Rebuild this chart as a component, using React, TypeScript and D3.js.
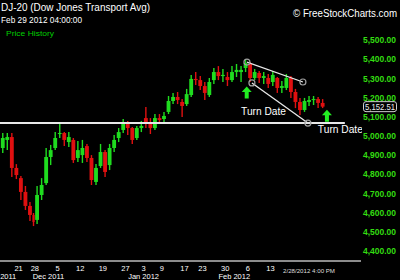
import React from 'react';
import * as d3 from 'd3';

// ---- data ----
const dates = [
  "2011-11-15","2011-11-16","2011-11-17","2011-11-18","2011-11-21","2011-11-22","2011-11-23","2011-11-25",
  "2011-11-28","2011-11-29","2011-11-30","2011-12-01","2011-12-02","2011-12-05","2011-12-06","2011-12-07",
  "2011-12-08","2011-12-09","2011-12-12","2011-12-13","2011-12-14","2011-12-15","2011-12-16","2011-12-19",
  "2011-12-20","2011-12-21","2011-12-22","2011-12-23","2011-12-27","2011-12-28","2011-12-29","2011-12-30",
  "2012-01-03","2012-01-04","2012-01-05","2012-01-06","2012-01-09","2012-01-10","2012-01-11","2012-01-12",
  "2012-01-13","2012-01-17","2012-01-18","2012-01-19","2012-01-20","2012-01-23","2012-01-24","2012-01-25",
  "2012-01-26","2012-01-27","2012-01-30","2012-01-31","2012-02-01","2012-02-02","2012-02-03","2012-02-06",
  "2012-02-07","2012-02-08","2012-02-09","2012-02-10","2012-02-13","2012-02-14","2012-02-15","2012-02-16",
  "2012-02-17","2012-02-21","2012-02-22","2012-02-23","2012-02-24","2012-02-27","2012-02-28","2012-02-29",
];
const opens = [
  4937,4979,4994,4833,4780,4708,4635,4588, 4562,4692,4754,4890,4937,5015,5015,4968,
  4979,4885,4900,4947,4885,4760,4843,4916, 4848,4937,4989,5031,5062,5041,4989,5041,
  5093,5072,5041,5093,5088,5125,5182,5203, 5177,5166,5213,5297,5291,5260,5213,5291,
  5333,5312,5307,5291,5333,5333,5354,5375, 5302,5328,5302,5302,5281,5302,5250,5250,
  5302,5229,5177,5135,5177,5187,5192,5172,
];
const highs = [
  5015,5015,5015,4853,4791,4739,4655,4598, 4739,4780,4937,4953,5020,5072,5020,5020,
  4989,4973,4979,4958,4900,4853,4958,4926, 4958,5005,5041,5088,5078,5046,5052,5078,
  5151,5093,5114,5114,5125,5208,5224,5229, 5192,5245,5318,5333,5312,5281,5302,5354,
  5364,5349,5333,5364,5375,5364,5401,5385, 5349,5338,5333,5323,5338,5307,5286,5323,
  5312,5245,5198,5198,5208,5208,5203,5192,
];
const lows = [
  4911,4926,4786,4775,4666,4614,4556,4530, 4541,4666,4744,4848,4926,4989,4947,4942,
  4859,4864,4859,4864,4744,4744,4833,4786, 4822,4916,4968,5015,5005,4958,4979,5020,
  5041,5010,5031,5062,5072,5114,5166,5166, 5099,5156,5203,5265,5239,5187,5203,5271,
  5291,5281,5260,5281,5307,5281,5333,5281, 5291,5276,5271,5250,5260,5224,5224,5239,
  5198,5145,5109,5125,5156,5161,5145,5145,
];
const closes = [
  4989,4994,4833,4796,4708,4635,4588,4551, 4692,4744,4890,4926,4989,5015,4979,4994,
  4874,4926,4937,4885,4770,4833,4916,4812, 4937,4979,5020,5062,5041,4979,5041,5052,
  5072,5041,5093,5083,5104,5182,5203,5187, 5156,5218,5297,5291,5260,5224,5281,5333,
  5312,5318,5291,5333,5344,5344,5380,5302, 5333,5302,5312,5271,5318,5250,5260,5302,
  5229,5177,5135,5182,5187,5192,5172,5152.51,
];
const halfDays = ["2011-11-25"];
const priceTicks = [5500, 5400, 5300, 5200, 5100, 5000, 4900, 4800, 4700, 4600, 4500, 4400];
const dayTicks = [
  "2011-11-21","2011-11-28","2011-12-05","2011-12-12","2011-12-19","2011-12-27",
  "2012-01-03","2012-01-09","2012-01-17","2012-01-23","2012-01-30","2012-02-06","2012-02-13",
];
const monthTickDates = ["2011-11-15", "2011-12-01", "2012-01-03", "2012-02-01"];
const monthTickLabels = ["Nov 2011", "Dec 2011", "Jan 2012", "Feb 2012"];
const supportLevel = 5067;
const supportEnd = { date: "2012-02-29", frac: 5.4 };
const trendTop = [
  { date: "2012-02-03", frac: 0.8, price: 5385 },
  { date: "2012-02-23", frac: 0.15, price: 5281 },
];
const trendBottom = [
  { date: "2012-02-06", frac: 0.9, price: 5276 },
  { date: "2012-02-24", frac: 0.25, price: 5067 },
];
const arrowMarks = [
  { date: "2012-02-03", frac: 0.75, price: 5258 },
  { date: "2012-02-29", frac: 1.45, price: 5136 },
];
const turnLabels = [
  { date: "2012-02-02", frac: 0.5, price: 5109, text: "Turn Date" },
  { date: "2012-02-28", frac: 0.45, price: 5015, text: "Turn Date" },
];
const titleText = "DJ-20 (Dow Jones Transport Avg)";
const stampText = "Feb 29 2012 04:00:00";
const legendText = "Price History";
const brandText = "\u00A9 FreeStockCharts.com";
const footerText = "2/28/2012 4:00 PM";

const FONT = "'Liberation Sans', Arial, sans-serif";
const GREEN = "#1fdc1f";
const RED = "#e01010";

export default function App() {
  const W = 400, H = 280;
  const bpd = dates.map(d => (halfDays.includes(d) ? 4 : 7));
  const starts: number[] = [];
  let acc = 0;
  bpd.forEach(b => { starts.push(acc); acc += b; });
  const total = acc;
  const x = d3.scaleLinear().domain([0, total]).range([0.5, 324.9]);
  const y = d3.scaleLinear().domain([4400, 5500]).range([251, 40]);
  const index = new Map(dates.map((d, i) => [d, i] as [string, number]));
  const pos = (date: string, frac = 0) => {
    const i = index.get(date)!;
    return x(starts[i] + frac * bpd[i]);
  };
  const fmt = d3.format(",.2f");
  const lastClose = closes[closes.length - 1];
  const axisY = 261;
  const arrowPath = (cx: number, ty: number) =>
    `M${cx},${ty} L${cx + 5},${ty + 5.5} L${cx + 2},${ty + 5.5} L${cx + 2},${ty + 12} L${cx - 2},${ty + 12} L${cx - 2},${ty + 5.5} L${cx - 5},${ty + 5.5} Z`;

  return (
    <svg width={W} height={H} style={{ position: 'absolute', left: 0, top: 0, display: 'block', background: '#000' }}>
      <defs>
        <clipPath id="plotClip"><rect x={0} y={0} width={362} height={258} /></clipPath>
      </defs>
      <rect x={0} y={0} width={W} height={H} fill="#000" />

      {/* header texts */}
      <text x={1} y={11} fill="#fff" fontFamily={FONT} fontSize={10} textLength={149} lengthAdjust="spacingAndGlyphs">{titleText}</text>
      <text x={1} y={23} fill="#fff" fontFamily={FONT} fontSize={8.5} textLength={81} lengthAdjust="spacingAndGlyphs">{stampText}</text>
      <text x={6} y={36} fill="#00cc00" fontFamily={FONT} fontSize={8} textLength={48} lengthAdjust="spacingAndGlyphs">{legendText}</text>
      <text x={293} y={17} fill="#fff" fontFamily={FONT} fontSize={10} textLength={104} lengthAdjust="spacingAndGlyphs">{brandText}</text>

      <g clipPath="url(#plotClip)">
        {/* candles */}
        {dates.map((d, i) => {
          const cx = pos(d, 0.5);
          const w = (x(starts[i] + bpd[i]) - x(starts[i])) * 0.85;
          const up = closes[i] >= opens[i];
          const col = up ? GREEN : RED;
          const y0 = Math.min(y(opens[i]), y(closes[i]));
          const h = Math.max(1, Math.abs(y(opens[i]) - y(closes[i])));
          return (
            <g key={d}>
              <line x1={cx} x2={cx} y1={y(highs[i])} y2={y(lows[i])} stroke={col} strokeWidth={1.4} />
              <rect x={cx - w / 2} y={y0} width={w} height={h} fill={col} />
            </g>
          );
        })}

        {/* support line */}
        <line x1={0} x2={pos(supportEnd.date, supportEnd.frac)} y1={y(supportLevel)} y2={y(supportLevel)} stroke="#e8e8e8" strokeWidth={2} />

        {/* trend lines */}
        {[trendTop, trendBottom].map((t, k) => (
          <g key={k}>
            <line x1={pos(t[0].date, t[0].frac)} y1={y(t[0].price)} x2={pos(t[1].date, t[1].frac)} y2={y(t[1].price)} stroke="#e8e8e8" strokeWidth={1.3} />
            {t.map((p, j) => (
              <circle key={j} cx={pos(p.date, p.frac)} cy={y(p.price)} r={3} fill="none" stroke="#a0a0a0" strokeWidth={1.2} />
            ))}
          </g>
        ))}

        {/* arrows */}
        {arrowMarks.map((a, k) => (
          <path key={k} d={arrowPath(pos(a.date, a.frac), y(a.price))} fill="#22ee22" />
        ))}

        {/* turn date labels */}
        {turnLabels.map((l, k) => (
          <text key={k} x={pos(l.date, l.frac)} y={y(l.price)} fill="#fff" fontFamily={FONT} fontSize={10.5} textLength={45} lengthAdjust="spacingAndGlyphs">{l.text}</text>
        ))}
      </g>

      {/* y axis labels */}
      {priceTicks.map(p => (
        <text key={p} x={396} y={y(p) + 3.2} textAnchor="end" fill="#33dd11" fontFamily={FONT} fontWeight="bold" fontSize={9} textLength={33} lengthAdjust="spacingAndGlyphs">{fmt(p)}</text>
      ))}

      {/* last price box */}
      <rect x={363.5} y={y(lastClose) - 5} width={33} height={10} rx={2.5} fill="#000" stroke="#cfcfcf" strokeWidth={1} />
      <text x={380} y={y(lastClose) + 3} textAnchor="middle" fill="#eee" fontFamily={FONT} fontSize={8.5} textLength={30} lengthAdjust="spacingAndGlyphs">{fmt(lastClose)}</text>

      {/* x axis */}
      <line x1={0} x2={361} y1={axisY} y2={axisY} stroke="#8c8c8c" strokeWidth={2} />
      {dayTicks.map(d => (
        <text key={d} x={pos(d)} y={271} textAnchor="middle" fill="#fff" fontFamily={FONT} fontSize={7.5}>{String(+d.slice(8))}</text>
      ))}
      {monthTickDates.map((d, k) => (
        <text key={d} x={pos(d)} y={279} textAnchor="middle" fill="#fff" fontFamily={FONT} fontSize={7.5}>{monthTickLabels[k]}</text>
      ))}
      <text x={283} y={273} fill="#ddd" fontFamily={FONT} fontSize={6} textLength={52} lengthAdjust="spacingAndGlyphs">{footerText}</text>
    </svg>
  );
}
